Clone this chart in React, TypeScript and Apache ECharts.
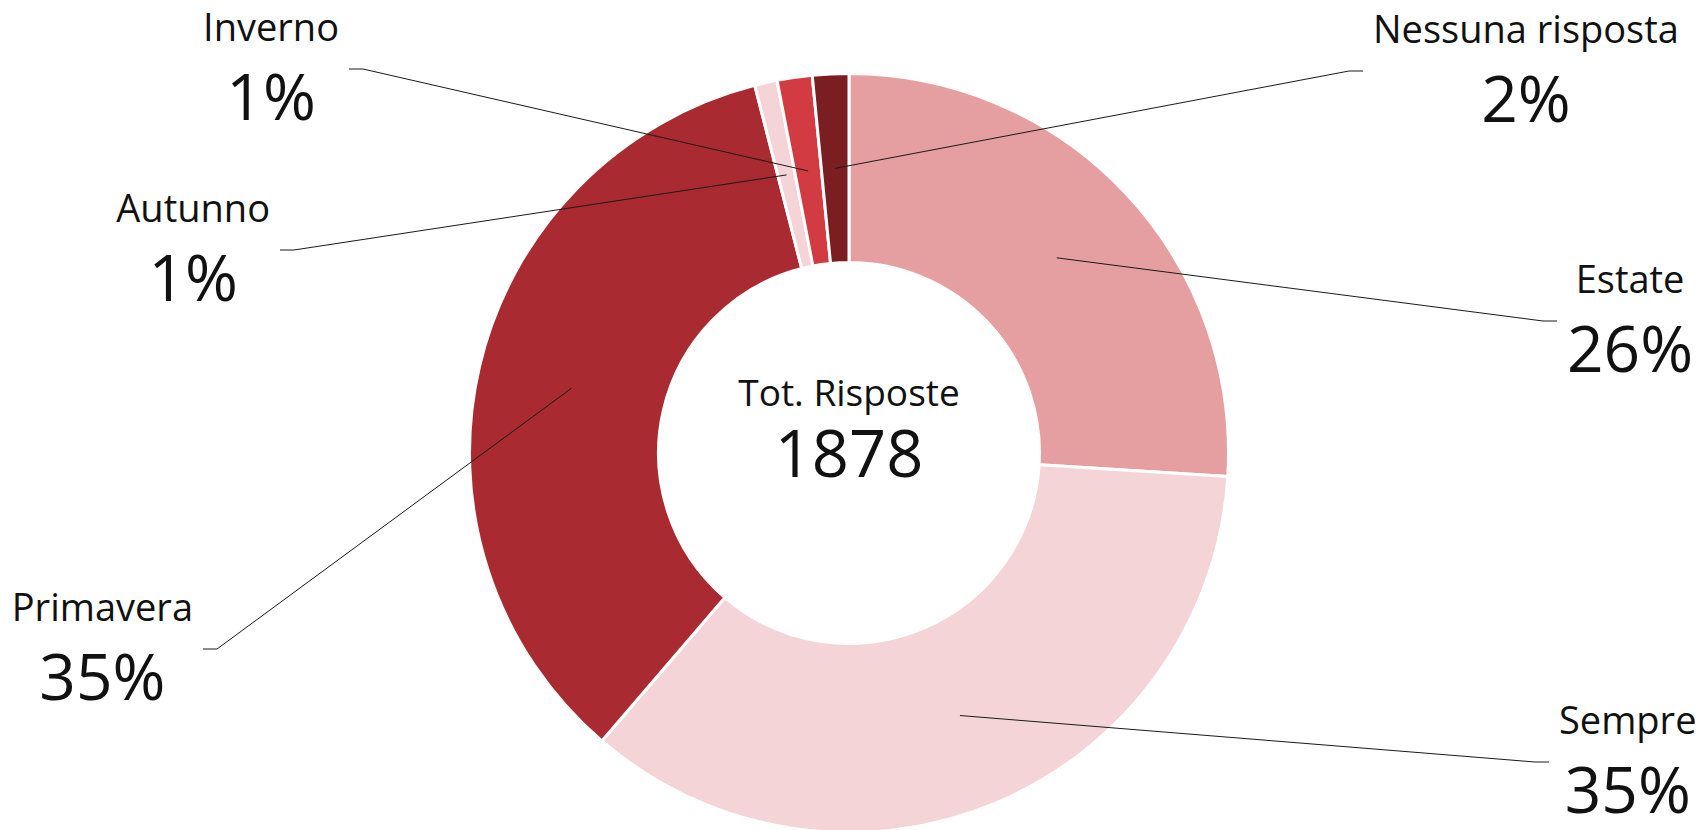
import React, { useEffect, useRef } from 'react';
import * as echarts from 'echarts';

const categories = ['Estate', 'Sempre', 'Primavera', 'Autunno', 'Inverno', 'Nessuna risposta'];
const responses = [488, 663, 652, 18, 28, 29];
const sliceColors = ['#e69fa1', '#f4d4d6', '#a92a31', '#f4d4d6', '#d13b41', '#7b1e22'];
const centerTitle = 'Tot. Risposte';

// label line end points (layout only) and the side on which the label sits
const labelAnchors: [number, number, 'left' | 'right'][] = [
  [1557, 321, 'right'],
  [1549, 762, 'right'],
  [203, 649, 'left'],
  [280, 250, 'left'],
  [349, 69, 'left'],
  [1363, 71, 'right'],
];

const W = 1701;
const H = 830;
const CX = 849;
const CY = 453;
const R_OUT = 379.5;
const R_IN = 190.5;
const R_MID = 285;
const FONT = '"Open Sans", "Noto Sans", sans-serif';
const INK = '#111111';

export default function App() {
  const ref = useRef<HTMLDivElement>(null);
  useEffect(() => {
    if (!ref.current) return;
    const chart = echarts.init(ref.current, undefined, { renderer: 'svg' });
    const total = responses.reduce((a, b) => a + b, 0);
    chart.setOption({
      animation: false,
      backgroundColor: '#ffffff',
      graphic: [
        {
          type: 'text',
          x: CX,
          y: 391.5,
          style: { text: centerTitle, fontSize: 37, lineHeight: 40, fontFamily: FONT, fill: INK, align: 'center', verticalAlign: 'middle' },
        },
        {
          type: 'text',
          x: CX,
          y: 451.5,
          style: { text: String(total), fontSize: 65, lineHeight: 68, fontFamily: FONT, fill: INK, align: 'center', verticalAlign: 'middle' },
        },
      ],
      series: [
        {
          type: 'pie',
          center: [CX, CY],
          radius: [R_IN, R_OUT],
          startAngle: 90,
          clockwise: true,
          silent: true,
          z: 1,
          label: { show: false },
          labelLine: { show: false },
          itemStyle: { borderColor: '#ffffff', borderWidth: 3 },
          emphasis: { disabled: true },
          data: categories.map((n, i) => ({ name: n, value: responses[i], itemStyle: { color: sliceColors[i] } })),
        },
        {
          type: 'pie',
          center: [CX, CY],
          radius: [0, R_MID],
          startAngle: 90,
          clockwise: true,
          silent: true,
          z: 3,
          avoidLabelOverlap: false,
          emphasis: { disabled: true },
          itemStyle: { color: 'rgba(0,0,0,0)', borderWidth: 0 },
          label: {
            show: true,
            position: 'outside',
            color: INK,
            fontFamily: FONT,
            formatter: (p: any) => `{n|${p.name}}\n{v|${Math.round((p.value / total) * 100)}%}`,
            rich: {
              n: { fontSize: 38, lineHeight: 52, fontFamily: FONT, color: INK },
              v: { fontSize: 64, lineHeight: 86, fontFamily: FONT, color: INK },
            },
          },
          labelLine: { show: true, length: 20, length2: 20, lineStyle: { color: '#1a1a1a', width: 1 } },
          labelLayout: (params: any) => {
            const [ex, ey, side] = labelAnchors[params.dataIndex];
            const w = params.labelRect.width;
            const dir = side === 'right' ? 1 : -1;
            const start = params.labelLinePoints ? params.labelLinePoints[0] : [CX, CY];
            return {
              x: ex + dir * (10 + w / 2),
              y: ey,
              align: 'center',
              verticalAlign: 'middle',
              labelLinePoints: [start, [ex - dir * 14, ey], [ex, ey]],
            };
          },
          data: categories.map((n, i) => ({ name: n, value: responses[i] })),
        },
      ],
    });
    return () => chart.dispose();
  }, []);
  return <div ref={ref} style={{ position: 'fixed', left: 0, top: 0, width: W, height: H }} />;
}
